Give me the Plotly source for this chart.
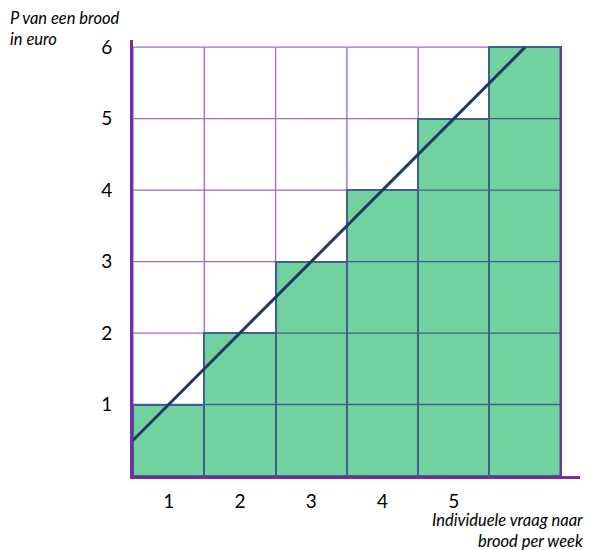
import plotly.graph_objects as go

quantity = [1, 2, 3, 4, 5, 6]           # bar position (upper edge of each unit)
price = [1, 2, 3, 4, 5, 6]              # bar heights
line_x = [0, 5.5]
line_y = [0.5, 6]
x_tick_vals = [0.5, 1.5, 2.5, 3.5, 4.5]
x_tick_text = ["1", "2", "3", "4", "5"]
y_tick_vals = [1, 2, 3, 4, 5, 6]
y_tick_text = ["1", "2", "3", "4", "5", "6"]

GRID = "#9a6ad0"
AXIS = "#7030a0"
EDGE = "#3f5f8f"
GREEN = "#72d29f"
NAVY = "#1f3864"
FONT = "Lato"

fig = go.Figure()

shapes = []
for v in range(0, 7):
    shapes.append(dict(type="line", xref="x", yref="y", x0=v, x1=v, y0=0, y1=6,
                       line=dict(color=GRID, width=1.3), layer="below"))
    shapes.append(dict(type="line", xref="x", yref="y", x0=0, x1=6, y0=v, y1=v,
                       line=dict(color=GRID, width=1.3), layer="below"))

fig.add_trace(go.Bar(
    x=[q - 0.5 for q in quantity], y=price, width=1,
    marker=dict(color=GREEN, line=dict(color=EDGE, width=2)),
    hoverinfo="skip", showlegend=False,
))

for q, p in zip(quantity, price):
    for k in range(1, p):
        shapes.append(dict(type="line", xref="x", yref="y", x0=q - 1, x1=q, y0=k, y1=k,
                           line=dict(color=EDGE, width=1.3), layer="above"))

shapes.append(dict(type="line", xref="x", yref="y", x0=6, x1=6, y0=0, y1=6,
                   line=dict(color=AXIS, width=2.5), layer="above"))

fig.add_trace(go.Scatter(
    x=line_x, y=line_y, mode="lines",
    line=dict(color=NAVY, width=3), hoverinfo="skip", showlegend=False,
))

# page body has an 8px margin, so the figure is offset by (8, 8)
fig.update_layout(
    width=584, height=542,
    margin=dict(l=125, r=12, t=32, b=74, autoexpand=False),
    plot_bgcolor="white", paper_bgcolor="white",
    shapes=shapes, bargap=0,
    font=dict(family=FONT, color="black"),
    xaxis=dict(range=[0, 6.27], showgrid=False, zeroline=False,
               showline=True, linecolor=AXIS, linewidth=3,
               tickvals=x_tick_vals, ticktext=x_tick_text, ticks="",
               tickfont=dict(size=19, family=FONT, color="black"),
               ticklabelstandoff=6),
    yaxis=dict(range=[0, 6.1], showgrid=False, zeroline=False,
               showline=True, linecolor=AXIS, linewidth=3,
               tickvals=y_tick_vals, ticktext=y_tick_text, ticks="",
               tickfont=dict(size=19, family=FONT, color="black"),
               ticklabelstandoff=14),
    annotations=[
        dict(text="<i>P van een brood<br>in euro</i>", xref="paper", yref="paper",
             x=-125/447, y=1 + 32/436, xanchor="left", yanchor="top",
             align="left", showarrow=False, xshift=0, yshift=2,
             font=dict(size=16.5, family=FONT, color="black")),
        dict(text="<i>Individuele vraag naar<br>brood per week</i>", xref="paper", yref="paper",
             x=1 + 9/447, y=-33/436, xanchor="right", yanchor="top",
             align="right", showarrow=False, xshift=-4, yshift=1,
             font=dict(size=16.5, family=FONT, color="black")),
    ],
)

fig.write_html("out.html")
